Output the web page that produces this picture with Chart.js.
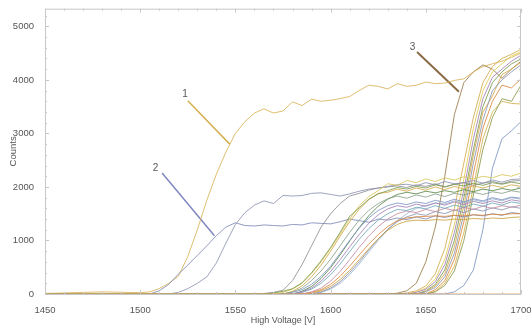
<!DOCTYPE html>
<html>
<head>
<meta charset="utf-8">
<script src="https://cdn.jsdelivr.net/npm/chart.js@4"></script>
<style>
  html, body { margin: 0; padding: 0; background: #fff; }
  #plot { display: block; }
</style>
</head>
<body>
<canvas id="plot" width="531" height="326"></canvas>
<script>
// ── Axis ticks ──
const xTicks = [1450, 1500, 1550, 1600, 1650, 1700];
const yTicks = [0, 1000, 2000, 3000, 4000, 5000];

// ── Plateau curves, [voltage, counts] ──
const curve1 = [[1450,10],[1480,40],[1500,25],[1505,40],[1510,100],[1515,200],[1520,330],[1525,700],[1530,1200],[1535,1750],[1540,2240],[1545,2650],[1550,3000],[1555,3220],[1560,3380],[1565,3460],[1570,3380],[1575,3420],[1580,3590],[1585,3520],[1590,3640],[1595,3600],[1600,3620],[1605,3650],[1610,3690],[1615,3800],[1620,3900],[1625,3880],[1630,3830],[1635,3930],[1640,3880],[1645,3900],[1650,3960],[1655,3930],[1660,3940],[1665,3990],[1670,4020],[1675,4150],[1680,4250],[1685,4300],[1690,4350],[1695,4420],[1700,4500]];
const curve2 = [[1450,0],[1505,0],[1510,60],[1515,180],[1520,370],[1525,540],[1530,720],[1535,900],[1540,1090],[1545,1250],[1550,1330],[1555,1280],[1560,1270],[1565,1290],[1570,1280],[1575,1270],[1580,1300],[1585,1290],[1590,1330],[1595,1320],[1600,1310],[1605,1350],[1610,1400],[1615,1370],[1620,1340],[1625,1400],[1630,1380],[1635,1420],[1640,1390],[1645,1440],[1650,1400],[1655,1460],[1660,1430],[1665,1470],[1670,1440],[1675,1480],[1680,1460],[1685,1500],[1690,1470],[1695,1520],[1700,1500]];
const curveC = [[1450,0],[1515,0],[1520,30],[1525,100],[1530,200],[1535,320],[1540,580],[1545,950],[1550,1300],[1555,1520],[1560,1660],[1565,1740],[1570,1690],[1575,1840],[1580,1830],[1585,1840],[1590,1880],[1595,1890],[1600,1860],[1605,1830],[1610,1870],[1615,1920],[1620,1960],[1625,1980],[1630,2010],[1635,2040],[1640,2050],[1645,2020],[1650,2080],[1655,2040],[1660,2100],[1665,2060],[1670,2080],[1675,2120],[1680,2070],[1685,2130],[1690,2090],[1695,2140],[1700,2150]];
const curveD = [[1450,0],[1560,0],[1565,10],[1570,30],[1575,70],[1580,250],[1585,550],[1590,900],[1595,1250],[1600,1500],[1605,1690],[1610,1830],[1615,1880],[1620,1940],[1625,1980],[1630,2000],[1635,2020],[1640,1990],[1645,2040],[1650,2010],[1655,2060],[1660,2000],[1665,2050],[1670,2080],[1675,2030],[1680,2070],[1685,2100],[1690,2060],[1695,2110],[1700,2120]];

const m1 = [[1450,0],[1565,0],[1570,20],[1575,50],[1580,100],[1585,210],[1590,400],[1595,620],[1600,870],[1605,1150],[1610,1450],[1615,1610],[1620,1770],[1625,1870],[1630,1930],[1635,1990],[1640,1960],[1645,2010],[1650,1980],[1655,2040],[1660,2000],[1665,2050],[1670,2020],[1675,2070],[1680,2030],[1685,2080],[1690,2050],[1695,2090],[1700,2060]];
const m2 = [[1450,0],[1570,0],[1575,30],[1580,90],[1585,200],[1590,380],[1595,600],[1600,850],[1605,1120],[1610,1400],[1615,1650],[1620,1820],[1625,1930],[1630,2060],[1635,2030],[1640,2120],[1645,2080],[1650,2150],[1655,2100],[1660,2170],[1665,2130],[1670,2190],[1675,2150],[1680,2200],[1685,2170],[1690,2230],[1695,2200],[1700,2260]];
const m3 = [[1450,0],[1575,0],[1580,40],[1585,110],[1590,250],[1595,430],[1600,650],[1605,900],[1610,1150],[1615,1380],[1620,1560],[1625,1690],[1630,1780],[1635,1830],[1640,1790],[1645,1850],[1650,1810],[1655,1870],[1660,1820],[1665,1880],[1670,1850],[1675,1900],[1680,1860],[1685,1910],[1690,1880],[1695,1930],[1700,1900]];
const m4 = [[1450,0],[1575,0],[1580,30],[1585,80],[1590,180],[1595,330],[1600,520],[1605,760],[1610,1000],[1615,1230],[1620,1420],[1625,1560],[1630,1650],[1635,1700],[1640,1670],[1645,1720],[1650,1690],[1655,1750],[1660,1710],[1665,1770],[1670,1720],[1675,1780],[1680,1740],[1685,1800],[1690,1760],[1695,1810],[1700,1790]];
const m5 = [[1450,0],[1580,0],[1585,40],[1590,110],[1595,240],[1600,420],[1605,640],[1610,880],[1615,1110],[1620,1320],[1625,1480],[1630,1590],[1635,1650],[1640,1620],[1645,1680],[1650,1640],[1655,1700],[1660,1660],[1665,1720],[1670,1670],[1675,1730],[1680,1690],[1685,1740],[1690,1700],[1695,1760],[1700,1730]];
const m6 = [[1450,0],[1575,0],[1580,50],[1585,150],[1590,320],[1595,540],[1600,800],[1605,1080],[1610,1350],[1615,1580],[1620,1760],[1625,1880],[1630,1900],[1635,1960],[1640,1920],[1645,1980],[1650,1940],[1655,2000],[1660,1950],[1665,2010],[1670,1960],[1675,2020],[1680,1980],[1685,2030],[1690,1990],[1695,2040],[1700,2010]];
const m7 = [[1450,0],[1580,0],[1585,30],[1590,90],[1595,200],[1600,360],[1605,560],[1610,790],[1615,1020],[1620,1220],[1625,1380],[1630,1500],[1635,1580],[1640,1560],[1645,1620],[1650,1590],[1655,1650],[1660,1600],[1665,1660],[1670,1620],[1675,1680],[1680,1640],[1685,1700],[1690,1660],[1695,1720],[1700,1690]];
const m8 = [[1450,0],[1585,0],[1590,40],[1595,110],[1600,240],[1605,420],[1610,640],[1615,870],[1620,1080],[1625,1260],[1630,1400],[1635,1500],[1640,1550],[1645,1520],[1650,1580],[1655,1540],[1660,1600],[1665,1560],[1670,1620],[1675,1580],[1680,1640],[1685,1600],[1690,1650],[1695,1620],[1700,1660]];
const m9 = [[1450,0],[1585,0],[1590,30],[1595,80],[1600,180],[1605,330],[1610,520],[1615,730],[1620,930],[1625,1110],[1630,1260],[1635,1370],[1640,1420],[1645,1440],[1650,1450],[1655,1460],[1660,1450],[1665,1470],[1670,1460],[1675,1480],[1680,1470],[1685,1490],[1690,1480],[1695,1500],[1700,1500]];
const m10 = [[1450,0],[1585,0],[1590,20],[1595,60],[1600,140],[1605,270],[1610,440],[1615,640],[1620,840],[1625,1030],[1630,1190],[1635,1300],[1640,1360],[1645,1380],[1650,1370],[1655,1390],[1660,1380],[1665,1400],[1670,1390],[1675,1410],[1680,1400],[1685,1420],[1690,1410],[1695,1430],[1700,1440]];
const m11 = [[1450,0],[1590,0],[1595,40],[1600,110],[1605,230],[1610,400],[1615,600],[1620,820],[1625,1030],[1630,1210],[1635,1350],[1640,1440],[1645,1500],[1650,1470],[1655,1540],[1660,1500],[1665,1570],[1670,1520],[1675,1590],[1680,1550],[1685,1610],[1690,1570],[1695,1630],[1700,1600]];
const m12 = [[1450,0],[1580,0],[1585,50],[1590,140],[1595,290],[1600,490],[1605,730],[1610,990],[1615,1240],[1620,1460],[1625,1640],[1630,1770],[1635,1860],[1640,1900],[1645,1870],[1650,1920],[1655,1890],[1660,1930],[1665,1900],[1670,1950],[1675,1910],[1680,1960],[1685,1930],[1690,1970],[1695,1940],[1700,1980]];
const m13 = [[1450,0],[1590,0],[1595,30],[1600,90],[1605,200],[1610,360],[1615,560],[1620,780],[1625,1000],[1630,1200],[1635,1370],[1640,1500],[1645,1600],[1650,1650],[1655,1700],[1660,1680],[1665,1740],[1670,1700],[1675,1760],[1680,1720],[1685,1780],[1690,1740],[1695,1800],[1700,1770]];

const t1 = [[1450,0],[1630,0],[1635,15],[1640,60],[1645,200],[1650,600],[1655,1250],[1660,2200],[1665,3350],[1670,3950],[1675,4150],[1680,4280],[1685,4200],[1690,4030],[1695,4200],[1700,4350]];
const t2 = [[1450,0],[1635,0],[1640,20],[1645,60],[1650,150],[1655,380],[1660,850],[1665,1600],[1670,2450],[1675,3300],[1680,3950],[1685,4250],[1690,4400],[1695,4480],[1700,4570]];
const t3 = [[1450,0],[1640,0],[1645,40],[1650,110],[1655,280],[1660,650],[1665,1300],[1670,2150],[1675,3100],[1680,3800],[1685,4150],[1690,4300],[1695,4450],[1700,4520]];
const t4 = [[1450,0],[1640,0],[1645,30],[1650,90],[1655,230],[1660,550],[1665,1150],[1670,1950],[1675,2900],[1680,3650],[1685,4050],[1690,4200],[1695,4350],[1700,4460]];
const t5 = [[1450,0],[1645,0],[1650,60],[1655,180],[1660,450],[1665,1000],[1670,1800],[1675,2700],[1680,3500],[1685,3950],[1690,4150],[1695,4300],[1700,4390]];
const t6 = [[1450,0],[1645,0],[1650,50],[1655,150],[1660,380],[1665,880],[1670,1650],[1675,2600],[1680,3400],[1685,3700],[1690,4100],[1695,4200],[1700,4330]];
const t7 = [[1450,0],[1645,0],[1650,40],[1655,120],[1660,320],[1665,760],[1670,1500],[1675,2450],[1680,3250],[1685,3800],[1690,4000],[1695,4150],[1700,4280]];
const t8 = [[1450,0],[1650,0],[1655,80],[1660,250],[1665,650],[1670,1350],[1675,2250],[1680,3100],[1685,3600],[1690,3900],[1695,3850],[1700,4020]];
const t9 = [[1450,0],[1650,0],[1655,50],[1660,200],[1665,520],[1670,1150],[1675,2000],[1680,2900],[1685,3400],[1690,3600],[1695,3560],[1700,3550]];
const t10 = [[1450,0],[1650,0],[1655,40],[1660,160],[1665,430],[1670,1000],[1675,1850],[1680,2700],[1685,3300],[1690,3650],[1695,3600],[1700,3900]];
const t11 = [[1450,0],[1660,0],[1665,40],[1670,160],[1675,450],[1680,1200],[1685,2350],[1690,2900],[1695,3050],[1700,3220]];
const flat = [[1450,0],[1700,0]];

// ── Annotation leaders: label, text anchor, line start, line end ──
const noteLabels = ['1', '2', '3'];
const noteText = [[1523.5, 3740], [1508, 2350], [1643, 4610]];
const noteFrom = [[1525, 3610], [1511.5, 2260], [1645.4, 4520]];
const noteTo = [[1547, 2800], [1539, 1090], [1667.4, 3780]];

const series = [
  [flat, '#e8a060'],
  [m1, '#7a9a4a'], [m2, '#d9c85a'], [m3, '#8aa08a'], [m4, '#7d93c4'],
  [m5, '#a27fb5'], [m6, '#d4a94a'], [m7, '#6fa8b8'], [m8, '#c48aa0'],
  [m9, '#d9883a'], [m10, '#caa040'], [m11, '#8a94b0'], [m12, '#5a8a4a'],
  [m13, '#9ab4d0'],
  [curveD, '#8e8e96'], [curveC, '#8c93b0'], [curve2, '#7f8ab8'], [curve1, '#d9b256'],
  [t11, '#7d93c4'], [t10, '#8a9a4a'], [t9, '#d4b04a'], [t8, '#d9883a'],
  [t7, '#8a94b0'], [t6, '#d4a94a'], [t5, '#7a9a4a'], [t4, '#a27fb5'],
  [t3, '#e0cc50'], [t2, '#d4a94a'], [t1, '#9a7a4a']
];
const noteColors = ['#d4b050', '#8088c0', '#8b6b45'];

const toXY = pts => pts.map(p => ({ x: p[0], y: p[1] }));

const datasets = series.map(([pts, color]) => ({
  data: toXY(pts),
  borderColor: color,
  borderWidth: 0.85,
  pointRadius: 0,
  showLine: true,
  tension: 0
}));
noteLabels.forEach((lab, i) => {
  datasets.push({
    data: toXY([noteFrom[i], noteTo[i]]),
    borderColor: noteColors[i],
    borderWidth: i === 2 ? 2 : 1.5,
    pointRadius: 0,
    showLine: true
  });
});

// frame, inward ticks and annotation numbers
const framePlugin = {
  id: 'frame',
  afterDraw(chart) {
    const { ctx, chartArea: a, scales: { x, y } } = chart;
    ctx.save();
    ctx.strokeStyle = '#c8c8c8';
    ctx.lineWidth = 1;
    ctx.strokeRect(a.left + 0.5, a.top + 0.5, a.right - a.left - 1, a.bottom - a.top);
    ctx.beginPath();
    for (let v = 1450; v <= 1700; v += 10) {
      const px = Math.round(x.getPixelForValue(v)) + 0.5;
      const len = (v % 50 === 0) ? 4 : 2;
      ctx.moveTo(px, a.bottom); ctx.lineTo(px, a.bottom - len);
      ctx.moveTo(px, a.top); ctx.lineTo(px, a.top + len);
    }
    for (let c = 0; c <= 5200; c += 200) {
      const py = Math.round(y.getPixelForValue(c)) + 0.5;
      const len = (c % 1000 === 0) ? 4 : 2;
      ctx.moveTo(a.left, py); ctx.lineTo(a.left + len, py);
      ctx.moveTo(a.right, py); ctx.lineTo(a.right - len, py);
    }
    ctx.stroke();

    ctx.fillStyle = '#555';
    ctx.font = '10px "Liberation Sans", Arial, sans-serif';
    ctx.textAlign = 'center';
    ctx.textBaseline = 'middle';
    noteLabels.forEach((lab, i) => {
      ctx.fillText(lab, x.getPixelForValue(noteText[i][0]), y.getPixelForValue(noteText[i][1]));
    });
    ctx.restore();
  }
};

const tickFont = { family: '"Liberation Sans", Arial, sans-serif', size: 9.5 };

new Chart(document.getElementById('plot'), {
  type: 'scatter',
  data: { datasets },
  plugins: [framePlugin],
  options: {
    responsive: false,
    animation: false,
    devicePixelRatio: 1,
    layout: { padding: { top: 6, right: 10, left: 0, bottom: 0 } },
    plugins: { legend: { display: false }, tooltip: { enabled: false } },
    scales: {
      x: {
        type: 'linear',
        min: 1450,
        max: 1700,
        grid: { display: false },
        border: { display: false },
        afterBuildTicks: s => { s.ticks = xTicks.map(v => ({ value: v })); },
        ticks: { font: tickFont, color: '#555', padding: 3, maxRotation: 0, callback: v => String(v) },
        title: {
          display: true,
          text: 'High Voltage [V]',
          color: '#555',
          font: { family: tickFont.family, size: 9 },
          padding: { top: 4.5, bottom: 0 }
        },
        afterFit: s => { s.height = 32; s.paddingRight = 10; s.paddingLeft = 0; }
      },
      y: {
        type: 'linear',
        min: 0,
        max: 5330,
        grid: { display: false },
        border: { display: false },
        afterBuildTicks: s => { s.ticks = yTicks.map(v => ({ value: v })); },
        ticks: { font: tickFont, color: '#555', padding: 3, callback: v => String(v) },
        title: {
          display: true,
          text: 'Counts',
          color: '#555',
          font: { family: tickFont.family, size: 9.5 },
          padding: { top: 8, bottom: 0 }
        },
        afterFit: s => { s.width = 45; }
      }
    }
  }
});
</script>
</body>
</html>
